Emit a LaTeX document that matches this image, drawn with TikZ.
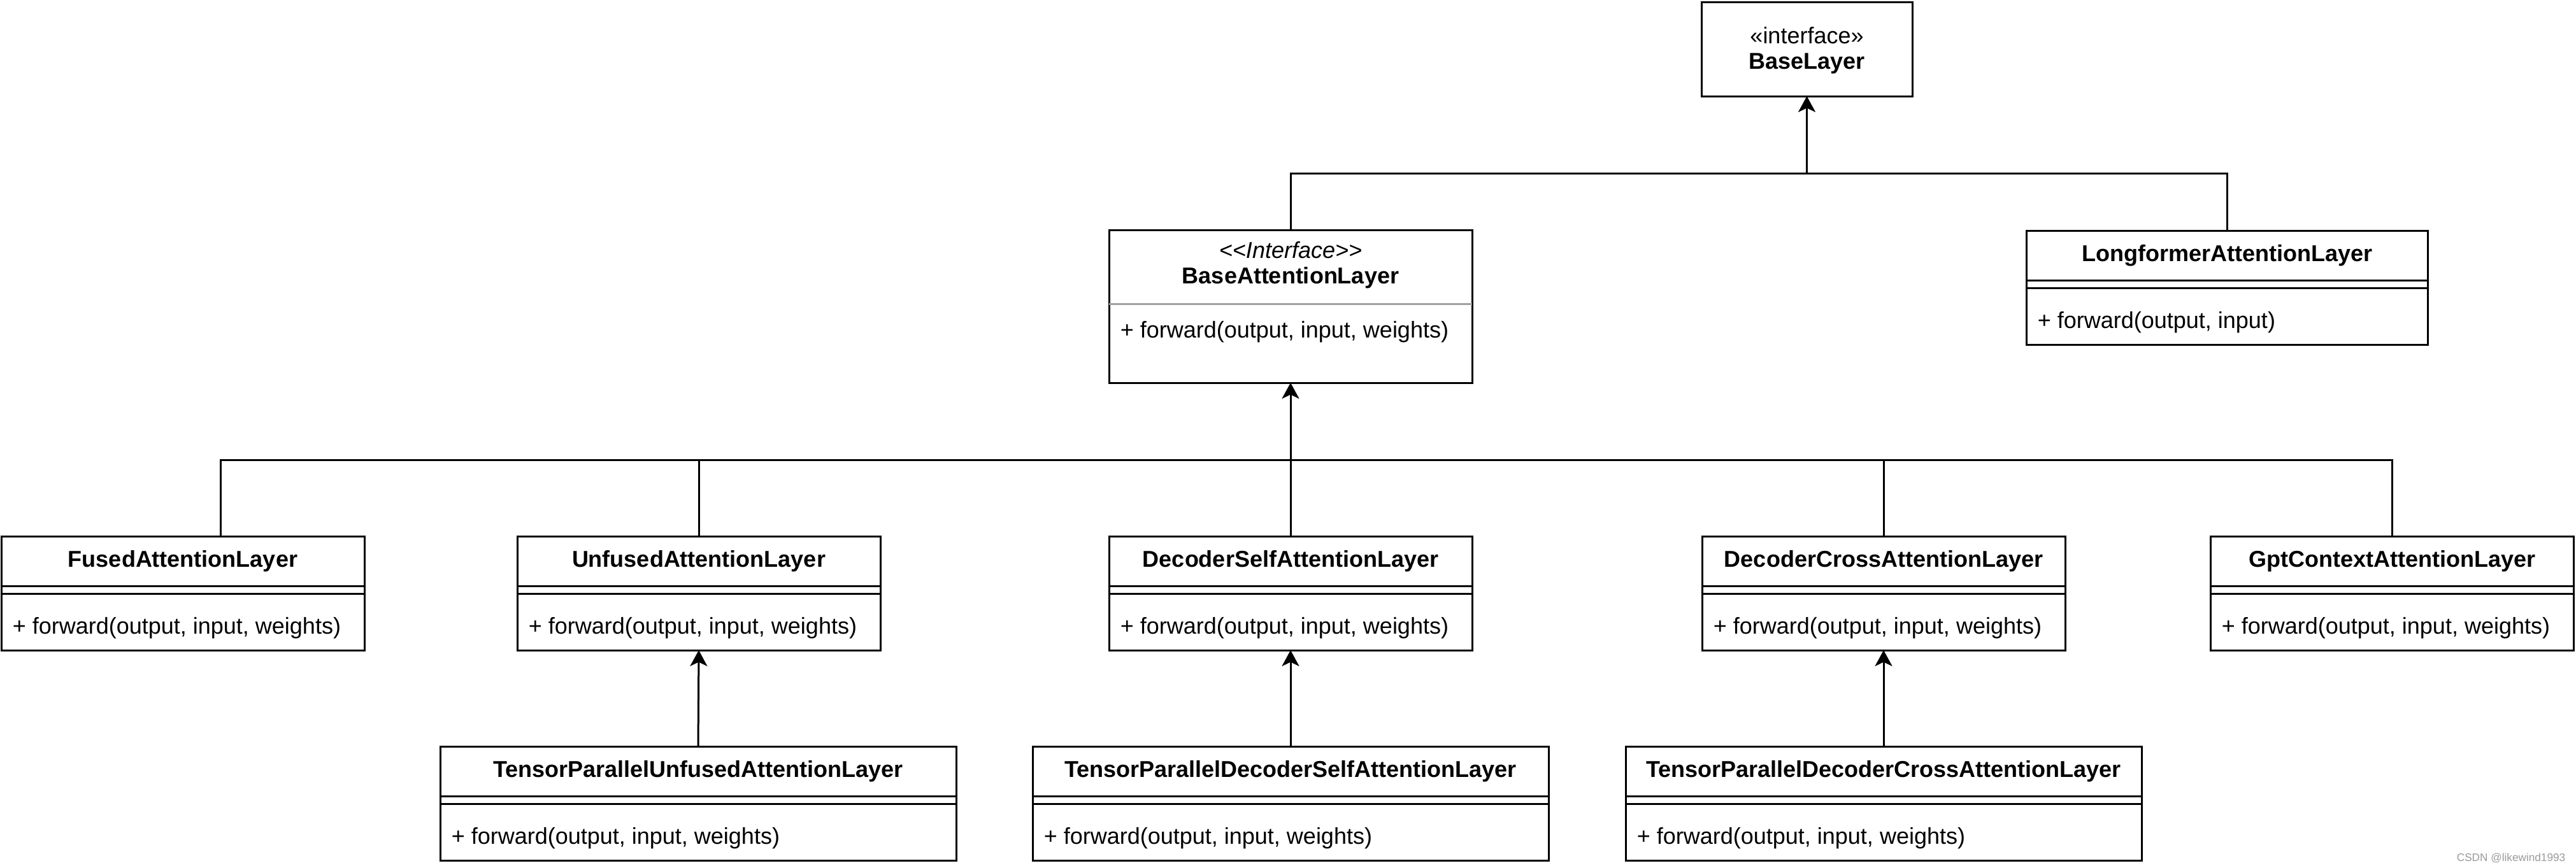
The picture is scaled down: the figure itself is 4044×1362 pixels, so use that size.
\documentclass[tikz,border=0pt]{standalone}
\usepackage{fontspec}
\setmainfont{Liberation Sans}
\usetikzlibrary{arrows.meta,calc}
\definecolor{sepgray}{HTML}{A0A0A0}
\definecolor{wmgray}{HTML}{9A9A9A}
\tikzset{
  umlline/.style={line width=0.75pt, draw=black},
  boxshape/.style={draw=black, line width=0.75pt, rectangle, inner sep=0pt, outer sep=0pt, fill=white},
  titletext/.style={inner sep=0pt, font=\fontsize{9pt}{11pt}\selectfont\bfseries},
  stereotext/.style={inner sep=0pt, font=\fontsize{9pt}{11pt}\selectfont},
  methodtext/.style={inner sep=0pt, anchor=west, font=\fontsize{9pt}{11pt}\selectfont},
  inh/.style={umlline, -{Stealth[length=6.25pt,width=6.75pt,inset=1.6pt]}},
}
\newcommand\umlbox[5]{%
  \pgfmathsetmacro\bw{(#4-#2)*0.25}%
  \pgfmathsetmacro\bh{(#5-#3)*0.25}%
  \node[boxshape, minimum width=\bw pt, minimum height=\bh pt, anchor=north west] (#1) at (#2,#3) {};
}
% name, left, top, right, bottom, title, method
\newcommand\umlclass[7]{%
  \umlbox{#1}{#2}{#3}{#4}{#5}
  \node[titletext] (#1-t) at ($(#1.north)+(0,39)$) {#6};
  \draw[umlline] (#2,#3+78) -- (#4,#3+78);
  \draw[umlline] (#2,#3+90) -- (#4,#3+90);
  \node[methodtext] (#1-m) at (#2+17,#3+144) {#7};
}
\begin{document}
\begin{tikzpicture}[x=0.25pt,y=-0.25pt]
\useasboundingbox (0,0) rectangle (4044,1362);

% top interface
\umlbox{BL}{2671}{3}{3002}{151}
\node[stereotext] (BL-s) at ($(BL.north)+(0,53)$) {«interface»};
\node[titletext] (BL-t) at ($(BL.north)+(0,97)$) {BaseLayer};

% BaseAttentionLayer
\umlbox{BAL}{1741}{361}{2311}{601}
\node[stereotext, font=\fontsize{9pt}{11pt}\selectfont\itshape] (BAL-s) at ($(BAL.north)+(0,32)$) {<{}<Interface>{}>};
\node[titletext] (BAL-t) at ($(BAL.north)+(0,75)$) {BaseAttentionLayer};
\draw[line width=0.75pt, draw=sepgray] (1741,477) -- (2311,477);
\node[methodtext] (BAL-m) at (1741+17,521) {+ forward(output, input, weights)};

% Longformer
\umlclass{LF}{3181}{362}{3811}{541}{LongformerAttentionLayer}{+ forward(output, input)}

% row 2
\umlclass{FA}{2}{842}{572}{1021}{FusedAttentionLayer}{+ forward(output, input, weights)}
\umlclass{UA}{812}{842}{1382}{1021}{UnfusedAttentionLayer}{+ forward(output, input, weights)}
\umlclass{DS}{1741}{842}{2311}{1021}{DecoderSelfAttentionLayer}{+ forward(output, input, weights)}
\umlclass{DC}{2672}{842}{3242}{1021}{DecoderCrossAttentionLayer}{+ forward(output, input, weights)}
\umlclass{GC}{3470}{842}{4040}{1021}{GptContextAttentionLayer}{+ forward(output, input, weights)}

% row 3
\umlclass{TU}{691}{1172}{1501}{1351}{TensorParallelUnfusedAttentionLayer}{+ forward(output, input, weights)}
\umlclass{TS}{1621}{1172}{2431}{1351}{TensorParallelDecoderSelfAttentionLayer}{+ forward(output, input, weights)}
\umlclass{TC}{2552}{1172}{3362}{1351}{TensorParallelDecoderCrossAttentionLayer}{+ forward(output, input, weights)}

% connectors to BaseLayer
\coordinate (j1) at (BL.south |- 0,272);
\draw[umlline] (LF.north) |- (j1);
\draw[inh] (BAL.north) |- (j1) -- (BL.south);

% connectors to BaseAttentionLayer
\coordinate (j2) at (BAL.south |- 0,722);
\coordinate (fatop) at (FA.north -| 346,0);
\draw[umlline] (fatop) |- (j2);
\draw[umlline] (UA.north) |- (j2);
\draw[umlline] (DC.north) |- (j2);
\draw[umlline] (GC.north) |- (j2);
\draw[inh] (DS.north) -- (BAL.south);

% row 3 to row 2
\draw[inh] (TU.north) -- (UA.south);
\draw[inh] (TS.north) -- (DS.south);
\draw[inh] (TC.north) -- (DC.south);

% watermark
\node[inner sep=0pt, text=wmgray, font=\fontsize{4.3pt}{5pt}\selectfont] (wm) at (3942,1347) {CSDN @likewind1993};
\end{tikzpicture}
\end{document}
